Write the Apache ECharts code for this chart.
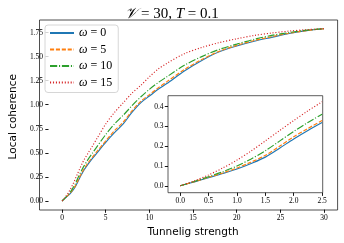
<!DOCTYPE html>
<html><head><meta charset="utf-8">
<script src="https://cdn.jsdelivr.net/npm/echarts@6/dist/echarts.min.js"></script>
<style>html,body{margin:0;padding:0;background:#fff}#c{width:344px;height:243px}</style>
</head><body><div id="c"></div>
<script>
const tValues = [0,0.25,0.5,0.75,1,1.25,1.5,1.75,2,2.25,2.5,3,3.5,4,5,6,7,8,9,10,11,12,14,16,18,20,22,24,26,28,30];
const omega0  = [0,0.02,0.041,0.062,0.085,0.113,0.145,0.19,0.237,0.28,0.32,0.385,0.445,0.50,0.61,0.71,0.80,0.92,1.02,1.09,1.16,1.22,1.35,1.46,1.55,1.61,1.66,1.70,1.74,1.77,1.79];
const omega5  = [0,0.021,0.043,0.065,0.09,0.12,0.154,0.2,0.248,0.29,0.33,0.40,0.458,0.515,0.625,0.73,0.82,0.935,1.035,1.105,1.175,1.24,1.365,1.47,1.555,1.617,1.667,1.707,1.743,1.77,1.79];
const omega10 = [0,0.022,0.046,0.071,0.10,0.136,0.177,0.226,0.275,0.32,0.362,0.435,0.50,0.565,0.69,0.80,0.89,0.99,1.08,1.16,1.23,1.29,1.41,1.50,1.575,1.63,1.68,1.72,1.75,1.775,1.79];
const omega15 = [0,0.025,0.055,0.09,0.13,0.176,0.227,0.279,0.33,0.379,0.425,0.50,0.575,0.65,0.80,0.92,1.02,1.12,1.20,1.29,1.37,1.43,1.53,1.595,1.645,1.685,1.72,1.745,1.765,1.78,1.79];
const seriesNames = ['ω = 0','ω = 5','ω = 10','ω = 15'];
const mainXRange = [0, 30, 5];
const mainYRange = [0, 1.75, 0.25];
const insetXRange = [0, 2.5, 0.5];
const insetYRange = [0, 0.4, 0.1];
const insetMaxT = 2.5;

const colors = ['#1f77b4','#ff7f0e','#2ca02c','#d62728'];
const dashes = ['solid',[4.1,1.8],[7.2,1.8,1.1,1.8],[1.1,1.85]];
const allData = [omega0, omega5, omega10, omega15];
const serif = 'Liberation Serif';

function pairs(vals, maxT){
  const out = [];
  tValues.forEach((t,i)=>{ if(maxT===undefined || t<=maxT) out.push([t, vals[i]]); });
  return out;
}
function tickAxis(grid, range, fmt, margin, offset, extra){
  return Object.assign({
    type:'value', gridIndex:grid, min:range[0], max:range[1], interval:range[2], offset:offset,
    splitLine:{show:false},
    axisLine:{show:false, onZero:false},
    axisTick:{show:true, inside:false, length:3.2, lineStyle:{color:'#000', width:0.9}},
    axisLabel:{show:true, showMinLabel:true, showMaxLabel:true, formatter:fmt, fontFamily:serif, fontSize:7.5, color:'#000', margin:margin}
  }, extra||{});
}
function hiddenAxis(grid, extra){
  return Object.assign({type:'value', gridIndex:grid, show:false, min:0, max:1}, extra||{});
}

const series = [];
allData.forEach((d,i)=>{
  series.push({name:seriesNames[i], type:'line', xAxisIndex:2, yAxisIndex:2, data:pairs(d),
    showSymbol:false, symbol:'none', smooth:0.3, z:2, clip:false,
    lineStyle:{color:colors[i], width:1.15, type:dashes[i]}, itemStyle:{color:colors[i]}});
});
allData.forEach((d,i)=>{
  series.push({name:seriesNames[i], type:'line', xAxisIndex:3, yAxisIndex:3, data:pairs(d, insetMaxT),
    showSymbol:false, symbol:'none', smooth:0.3, z:8, zlevel:1, clip:false,
    lineStyle:{color:colors[i], width:1.15, type:dashes[i]}, itemStyle:{color:colors[i]}});
});

const chart = echarts.init(document.getElementById('c'), null, {renderer:'canvas'});
chart.setOption({
  animation:false,
  backgroundColor:'#fff',
  title:{text:'{v|𝒱} = 30, {t|T} = 0.1', left:'center', top:2,
    textStyle:{rich:{v:{fontFamily:serif,fontSize:15,fontStyle:'italic',color:'#000'},t:{fontFamily:serif,fontSize:15,fontStyle:'italic',color:'#000'}},
      fontFamily:serif, fontSize:15, fontWeight:'normal', color:'#000'}},
  legend:{data:seriesNames, orient:'vertical', left:45, top:25, padding:[2,6,4,4],
    itemWidth:24, itemHeight:12, itemGap:4.5, itemTextGap:9,
    itemStyle:{opacity:0, borderWidth:0},
    backgroundColor:'rgba(255,255,255,0.8)', borderColor:'#ccc', borderWidth:0.8, borderRadius:3,
    formatter:function(n){ const p=n.split(' = '); return '{w|'+p[0]+'} = '+p[1]; },
    textStyle:{fontFamily:serif, fontSize:12, color:'#000', lineHeight:12,
      rich:{w:{fontFamily:serif, fontSize:12, fontStyle:'italic', color:'#000'}}}},
  grid:[
    // 0: main frame, 1: inset frame, 2: main data area, 3: inset data area
    {left:39.5, right:6.4, top:20, bottom:33, show:true, borderColor:'#222', borderWidth:0.8, backgroundColor:'#fff'},
    {left:168, right:21.3, top:95.7, bottom:50.3, show:true, borderColor:'#333', borderWidth:0.8, backgroundColor:'#fff', z:5, zlevel:1},
    {left:53.05, right:19.95, top:32.55, bottom:41.63},
    {left:180.2, right:21.9, top:106.7, bottom:57.2, zlevel:1}
  ],
  xAxis:[
    hiddenAxis(0), hiddenAxis(1, {zlevel:1}),
    tickAxis(2, mainXRange, v=>String(v), 4.5, 8.63, {
      name:'Tunnelig strength', nameLocation:'middle', nameGap:13,
      nameTextStyle:{fontFamily:'DejaVu Sans', fontSize:10.5, color:'#000', verticalAlign:'top'}}),
    tickAxis(3, insetXRange, v=>v.toFixed(1), 4.5, 6.9, {zlevel:1, z:6})
  ],
  yAxis:[
    hiddenAxis(0), hiddenAxis(1, {zlevel:1}),
    tickAxis(2, mainYRange, v=>v.toFixed(2), 5.5, 13.55, {
      name:'Local coherence', nameLocation:'middle', nameGap:27,
      nameTextStyle:{fontFamily:'DejaVu Sans', fontSize:10.5, color:'#000'}}),
    tickAxis(3, insetYRange, v=>v.toFixed(1), 4.5, 12.2, {zlevel:1, z:6})
  ],
  series:series
});
</script></body></html>
